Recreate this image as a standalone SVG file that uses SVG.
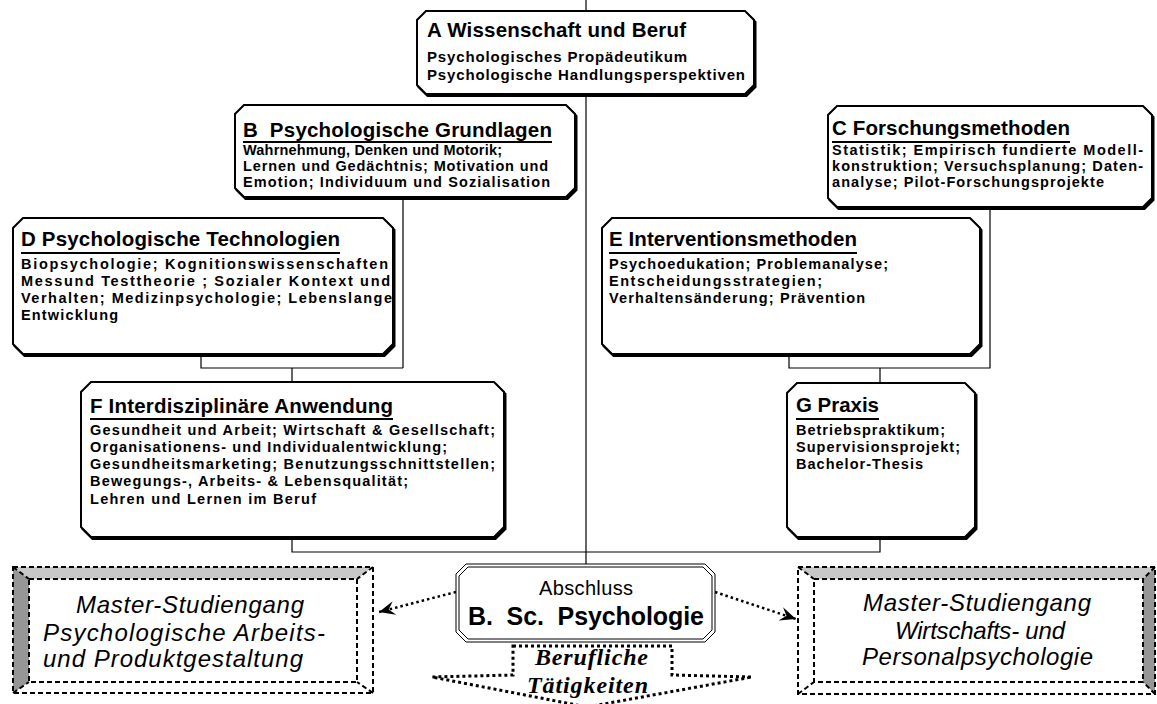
<svg xmlns="http://www.w3.org/2000/svg" xmlns:xlink="http://www.w3.org/1999/xlink" width="1157" height="704" viewBox="0 0 1157 704">
<style>
.box{fill:#fff;stroke:#000;stroke-width:2}
.shadow{fill:#000;stroke:#000;stroke-width:2}
.conn{fill:none;stroke:#000;stroke-width:1.2}
.t{font-family:"Liberation Sans",Arial,sans-serif;font-weight:bold;fill:#000}
.ttl{font-size:20.5px}
.bd{font-size:14.5px}
.ul{stroke:#000;stroke-width:2}
.dash{fill:none;stroke:#000;stroke-width:2;stroke-dasharray:5 3}
.bevL{fill:#c8c8c8}
.bevD{fill:#969696}
.mst{font-family:"Liberation Sans",Arial,sans-serif;font-style:italic;font-size:24px;fill:#000}
.dot{fill:none;stroke:#000;stroke-width:2.5;stroke-dasharray:2.5 3}
.blk{fill:none;stroke:#000;stroke-width:3;stroke-dasharray:3 3}
.thin{fill:#fff;stroke:#000;stroke-width:1}
</style>
<defs>
<marker id="stealth" markerUnits="userSpaceOnUse" markerWidth="20" markerHeight="20" refX="0" refY="0" viewBox="-18 -9 20 18" orient="auto">
<path d="M0,0 L-16,-7 L-10,0 L-16,7 Z" fill="#000"/>
</marker>
<path id="oA" d="M426,11 H745 L754,20 V85 L745,94 H426 L417,85 V20 Z"/>
<path id="oB" d="M244,105 H566 L575,114 V188 L566,197 H244 L235,188 V114 Z"/>
<path id="oC" d="M837,106 H1143 L1152,115 V198 L1143,207 H837 L828,198 V115 Z"/>
<path id="oD" d="M23,218 H383 L393,228 V344 L383,354 H23 L13,344 V228 Z"/>
<path id="oE" d="M612,218 H970 L980,228 V344 L970,354 H612 L602,344 V228 Z"/>
<path id="oF" d="M91,382 H494 L504,392 V527 L494,537 H91 L81,527 V392 Z"/>
<path id="oG" d="M797,383 H965 L975,393 V527 L965,537 H797 L787,527 V393 Z"/>
</defs>
<rect width="1157" height="704" fill="#fff"/>

<g id="connectors">
<path class="conn" d="M586,0 V564"/>
<path class="conn" d="M403,197 V368 M201,354 V368 H403 M292,368 V382"/>
<path class="conn" d="M990,207 V368 H789 V354 M880,368 V383"/>
<path class="conn" d="M292,537 V552 H880 V537"/>
<path class="dot" d="M456,592 L379,612" marker-end="url(#stealth)"/>
<path class="dot" d="M715,592 L796,619" marker-end="url(#stealth)"/>
</g>

<g id="nodeA">
<use xlink:href="#oA" class="shadow" transform="translate(1.5,2)"/>
<use xlink:href="#oA" class="box"/>
<text class="t ttl" x="427" y="37" textLength="259">A Wissenschaft und Beruf</text>
<text class="t bd" x="427" y="62" textLength="260" style="font-size:15px">Psychologisches Propädeutikum</text>
<text class="t bd" x="427" y="80" textLength="318" style="font-size:15px">Psychologische Handlungsperspektiven</text>
</g>

<g id="nodeB">
<use xlink:href="#oB" class="shadow" transform="translate(1.5,2)"/>
<use xlink:href="#oB" class="box"/>
<text class="t ttl" x="243" y="137" textLength="309" xml:space="preserve">B  Psychologische Grundlagen</text>
<line class="ul" x1="243" y1="142" x2="552" y2="142"/>
<text class="t bd" x="243" y="155" textLength="259">Wahrnehmung, Denken und Motorik;</text>
<text class="t bd" x="243" y="171" textLength="305">Lernen und Gedächtnis; Motivation und</text>
<text class="t bd" x="243" y="187" textLength="307">Emotion; Individuum und Sozialisation</text>
</g>

<g id="nodeC">
<use xlink:href="#oC" class="shadow" transform="translate(1.5,2)"/>
<use xlink:href="#oC" class="box"/>
<text class="t ttl" x="832" y="135" textLength="238">C Forschungsmethoden</text>
<line class="ul" x1="832" y1="142" x2="1070" y2="142"/>
<text class="t bd" x="832" y="155" textLength="311">Statistik; Empirisch fundierte Modell-</text>
<text class="t bd" x="832" y="171" textLength="311">konstruktion; Versuchsplanung; Daten-</text>
<text class="t bd" x="832" y="187" textLength="272">analyse; Pilot-Forschungsprojekte</text>
</g>

<g id="nodeD">
<use xlink:href="#oD" class="shadow" transform="translate(1.5,2)"/>
<use xlink:href="#oD" class="box"/>
<text class="t ttl" x="21" y="246" textLength="319">D Psychologische Technologien</text>
<line class="ul" x1="21" y1="253" x2="340" y2="253"/>
<text class="t bd" x="21" y="269" textLength="367">Biopsychologie; Kognitionswissenschaften</text>
<text class="t bd" x="21" y="286" textLength="369">Messund Testtheorie ; Sozialer Kontext und</text>
<text class="t bd" x="21" y="303" textLength="371">Verhalten; Medizinpsychologie; Lebenslange</text>
<text class="t bd" x="21" y="320" textLength="97">Entwicklung</text>
</g>

<g id="nodeE">
<use xlink:href="#oE" class="shadow" transform="translate(1.5,2)"/>
<use xlink:href="#oE" class="box"/>
<text class="t ttl" x="609" y="246" textLength="248">E Interventionsmethoden</text>
<line class="ul" x1="609" y1="253" x2="857" y2="253"/>
<text class="t bd" x="609" y="269" textLength="279">Psychoedukation; Problemanalyse;</text>
<text class="t bd" x="609" y="286" textLength="213">Entscheidungsstrategien;</text>
<text class="t bd" x="609" y="303" textLength="256">Verhaltensänderung; Prävention</text>
</g>

<g id="nodeF">
<use xlink:href="#oF" class="shadow" transform="translate(1.5,2)"/>
<use xlink:href="#oF" class="box"/>
<text class="t ttl" x="90" y="413" textLength="303">F Interdisziplinäre Anwendung</text>
<line class="ul" x1="90" y1="419" x2="393" y2="419"/>
<text class="t bd" x="90" y="435" textLength="405">Gesundheit und Arbeit; Wirtschaft &amp; Gesellschaft;</text>
<text class="t bd" x="90" y="452" textLength="357">Organisationens- und Individualentwicklung;</text>
<text class="t bd" x="90" y="469" textLength="405">Gesundheitsmarketing; Benutzungsschnittstellen;</text>
<text class="t bd" x="90" y="486" textLength="318">Bewegungs-, Arbeits- &amp; Lebensqualität;</text>
<text class="t bd" x="90" y="504" textLength="226">Lehren und Lernen im Beruf</text>
</g>

<g id="nodeG">
<use xlink:href="#oG" class="shadow" transform="translate(1.5,2)"/>
<use xlink:href="#oG" class="box"/>
<text class="t ttl" x="796" y="412" textLength="83">G Praxis</text>
<line class="ul" x1="796" y1="419" x2="879" y2="419"/>
<text class="t bd" x="796" y="435" textLength="149">Betriebspraktikum;</text>
<text class="t bd" x="796" y="452" textLength="164">Supervisionsprojekt;</text>
<text class="t bd" x="796" y="469" textLength="127">Bachelor-Thesis</text>
</g>

<g id="nodeAbschluss">
<path class="thin" d="M466,564 H705 L715,574 V632 L705,642 H466 L456,632 V574 Z"/>
<path class="thin" d="M468,567 H703 L712,576 V630 L703,639 H468 L459,630 V576 Z"/>
<text x="586" y="595" text-anchor="middle" style="font-family:'Liberation Sans',Arial,sans-serif;font-size:20px" textLength="94">Abschluss</text>
<text class="t" x="586" y="625" text-anchor="middle" style="font-size:25px" xml:space="preserve" textLength="236">B.  Sc.  Psychologie</text>
</g>

<g id="nodeBeruf">
<path class="blk" d="M513,646 H672 V675 L752,677 L587,707 L432,677 L513,675 Z"/>
<text x="535" y="665" textLength="113" style="font-family:'Liberation Serif','Times New Roman',serif;font-weight:bold;font-style:italic;font-size:24px">Berufliche</text>
<text x="527" y="693" textLength="121" style="font-family:'Liberation Serif','Times New Roman',serif;font-weight:bold;font-style:italic;font-size:24px">Tätigkeiten</text>
</g>

<g id="nodeMasterLeft">
<polygon class="bevL" points="13,567 373,567 357,579 29,579"/>
<polygon class="bevD" points="13,567 29,579 29,682 13,693"/>
<rect class="dash" x="13" y="567" width="360" height="126"/>
<rect class="dash" x="29" y="579" width="328" height="103"/>
<path class="dash" d="M373,567 L357,579 M373,693 L357,682 M13,693 L29,682 M13,567 L29,579"/>
<text class="mst" x="76" y="613" textLength="228">Master-Studiengang</text>
<text class="mst" x="43" y="641" textLength="282">Psychologische Arbeits-</text>
<text class="mst" x="43" y="667" textLength="260">und Produktgestaltung</text>
</g>

<g id="nodeMasterRight">
<polygon class="bevL" points="798,567 1155,567 1143,579 814,579"/>
<polygon class="bevD" points="1155,567 1143,579 1143,682 1155,694"/>
<rect class="dash" x="798" y="567" width="357" height="127"/>
<rect class="dash" x="814" y="579" width="329" height="103"/>
<path class="dash" d="M798,567 L814,579 M798,694 L814,682 M1155,694 L1143,682 M1155,567 L1143,579"/>
<text class="mst" x="863" y="611" textLength="228">Master-Studiengang</text>
<text class="mst" x="895" y="639" textLength="170">Wirtschafts- und</text>
<text class="mst" x="862" y="665" textLength="231">Personalpsychologie</text>
</g>
</svg>
